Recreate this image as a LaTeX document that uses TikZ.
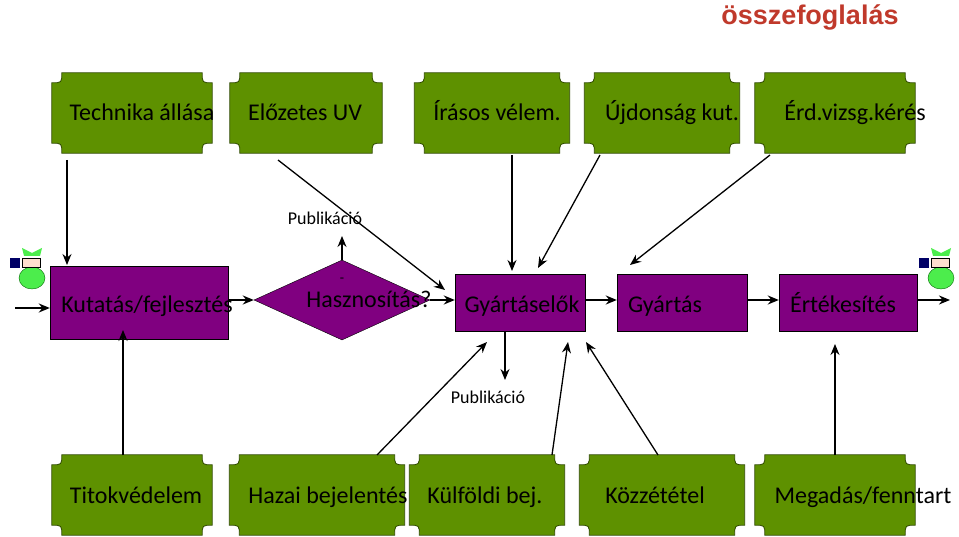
\documentclass[tikz,border=0pt]{standalone}
\usepackage{fontspec}
\setmainfont{Carlito}
\newfontfamily\titlefont{Liberation Sans}
\usetikzlibrary{shapes.geometric,arrows.meta}
\definecolor{plaquegreen}{HTML}{5E9100}
\definecolor{plaqueedge}{HTML}{2F4A00}
\definecolor{procpurple}{HTML}{800080}
\definecolor{titlered}{HTML}{C0392B}
\tikzset{
	box/.style={inner sep=0pt, minimum height=80pt},
	word/.style={inner sep=0pt, anchor=base, font=\fontsize{24}{24}\selectfont},
	proc/.style={draw=black, fill=procpurple, inner sep=0pt},
	arr/.style={-{Stealth[length=11pt,width=9pt]}, line width=1.3pt},
	flow/.style={-{Stealth[length=11pt,width=9pt]}, line width=2.4pt},
	lbl/.style={font=\fontsize{18}{18}\selectfont}
}
% plaque: name, centre x, centre y, width, text, text x
\newcommand{\plaque}[6]{
	\node[box, minimum width=#4pt] (#1) at (#2,#3) {};
	\filldraw[fill=plaquegreen, draw=plaqueedge, thick]
		([xshift=10pt]#1.north west) -- ([xshift=-10pt]#1.north east)
		.. controls ([xshift=-10pt,yshift=-10pt]#1.north east) .. ([yshift=-10pt]#1.north east)
		-- ([yshift=10pt]#1.south east)
		.. controls ([xshift=-10pt,yshift=10pt]#1.south east) .. ([xshift=-10pt]#1.south east)
		-- ([xshift=10pt]#1.south west)
		.. controls ([xshift=10pt,yshift=10pt]#1.south west) .. ([yshift=10pt]#1.south west)
		-- ([yshift=-10pt]#1.north west)
		.. controls ([xshift=10pt,yshift=-10pt]#1.north west) .. ([xshift=10pt]#1.north west) -- cycle;
	\node[word] (#1-t) at (#6,#3+8) {#5};
}
% money bag icon at a point
\newcommand{\moneybag}[2]{
	\begin{scope}[shift={(#1,#2)}]
		\fill[green!90!black!70, draw=green!40!black, thin] (2,8) ellipse (13pt and 11pt);
		\fill[green!90!black!70] (-6,-14) -- (10,-14) -- (12,-22) -- (2,-17) -- (-8,-22) -- cycle;
		\fill[pink!70!orange!40, draw=black, very thin] (-8,-12) rectangle (10,-3);
		\fill[blue!40!black] (-20,-12) rectangle (-10,-2);
	\end{scope}
}
\begin{document}
\begin{tikzpicture}[x=1pt, y=-1pt]
	\useasboundingbox (0,0) rectangle (959,537);

	\node[font=\titlefont\bfseries\fontsize{27}{27}\selectfont, text=titlered] (title) at (810,17) {összefoglalás};

	% top row
	\plaque{tech}{132}{113}{160}{Technika állása}{142}
	\plaque{uv}{306}{113}{152}{Előzetes UV}{305}
	\plaque{irasos}{492}{113}{155}{Írásos vélem.}{497}
	\plaque{ujdon}{662}{113}{155}{Újdonság kut.}{672}
	\plaque{erd}{835}{113}{160}{Érd.vizsg.kérés}{855}

	% bottom row
	\plaque{titok}{132}{495}{160}{Titokvédelem}{136}
	\plaque{hazai}{317}{495}{175}{Hazai bejelentés}{328}
	\plaque{kulf}{487}{495}{155}{Külföldi bej.}{485}
	\plaque{kozz}{662}{495}{165}{Közzététel}{655}
	\plaque{megad}{835}{495}{160}{Megadás/fenntart}{863}

	% middle row
	\node[proc, minimum width=178pt, minimum height=73pt] (kut) at (139,303) {};
	\node[word] at (147,313) {Kutatás/fejlesztés};
	\node[diamond, draw=black, fill=procpurple, aspect=2.2, minimum width=176pt, minimum height=80pt, inner sep=0pt] (haszn) at (342,300) {};
	\node[word] at (369,308) {Hasznosítás?};
	\node[font=\fontsize{14}{14}\selectfont] at (342,280) {-};
	\node[proc, minimum width=130pt, minimum height=57pt] (gyel) at (520,303) {};
	\node[word] at (522,313) {Gyártáselők};
	\node[proc, minimum width=130pt, minimum height=57pt] (gyart) at (682,303) {};
	\node[word] at (665,313) {Gyártás};
	\node[proc, minimum width=138pt, minimum height=57pt] (ert) at (848,303) {};
	\node[word] at (843,313) {Értékesítés};

	\coordinate (in) at (15,308);
	\coordinate (out) at (950,300);
	\draw[flow] (in) -- (kut.west |- in);
	\draw[flow] (kut.east |- haszn) -- (haszn.west);
	\draw[flow] (haszn.east) -- (gyel.west |- haszn);
	\draw[flow] (gyel.east |- haszn) -- (gyart.west |- haszn);
	\draw[flow] (gyart.east |- haszn) -- (ert.west |- haszn);
	\draw[flow] (ert.east |- out) -- (out);

	% publication labels
	\node[lbl] (pub1) at (325,218) {Publikáció};
	\node[lbl] (pub2) at (488,397) {Publikáció};
	\draw[arr] (haszn.north) -- (342,236);
	\draw[arr] (505,332) -- (505,380);

	% arrows from top row
	\draw[arr] (67,160) -- (67,265);
	\draw[arr] (278,160) -- (445,290);
	\draw[arr] (512,155) -- (512,271);
	\draw[arr] (600,155) -- (538,268);
	\draw[arr] (770,155) -- (630,265);

	% arrows from bottom row
	\draw[arr] (123,455) -- (123,330);
	\draw[arr] (377,455) -- (487,342);
	\draw[arr] (552,455) -- (568,342);
	\draw[arr] (658,455) -- (586,342);
	\draw[arr] (835,455) -- (835,344);

	\moneybag{30}{270}
	\moneybag{939}{270}
\end{tikzpicture}
\end{document}
